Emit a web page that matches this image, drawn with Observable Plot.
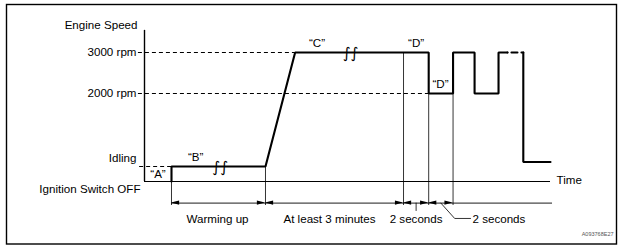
<!DOCTYPE html>
<html><head><meta charset="utf-8">
<script src="https://cdn.jsdelivr.net/npm/d3@7"></script>
<script src="https://cdn.jsdelivr.net/npm/@observablehq/plot@0.6"></script>
<style>
html,body{margin:0;padding:0;background:#fff;}
#chart svg{display:block;}
</style></head><body><div id="chart"></div>
<script>
// ---- Data (time in arbitrary units 0..100, engine speed in rpm) ----
const yTitle = "Engine Speed";
const xTitle = "Time";
const rpmTickValues = [3000, 2000];
const rpmTickLabels = ["3000 rpm", "2000 rpm"];
const idleRpm = 700;
const idleLabel = "Idling";
const offRpm = 0;
const offLabel = "Ignition Switch OFF";
const axisTopRpm = 3540;
const timeEnd = 100;

// engine speed trace
const signalT   = [6.65, 6.65, 29.8, 37.1, 70, 70, 76, 76, 81.3, 81.3, 87.2, 87.2, 89.4];
const signalRpm = [0, 700, 700, 3000, 3000, 2000, 2000, 3000, 3000, 2000, 2000, 3000, 3000];
const dashedT   = [89.4, 93.3];
const dashedRpm = [3000, 3000];
const tailT     = [93.3, 93.3, 100];
const tailRpm   = [3000, 780, 780];

// event instants (extension lines)
const eventT   = [6.65, 29.8, 63.8, 70, 76];
const eventRpm = [0, 700, 3000, 2000, 2000];

// duration annotations
const intervalStart = [6.65, 29.8, 63.8, 70];
const intervalEnd   = [29.8, 63.8, 70, 76];
const intervalLabel = ["Warming up", "At least 3 minutes", "2 seconds", "2 seconds"];

// point labels
const pointLabel = ["\u201CB\u201D", "\u201CC\u201D", "\u201CD\u201D", "\u201CD\u201D"];
const pointT     = [12.6, 42.5, 66.9, 72.9];
const pointRpm   = [700, 3000, 3000, 2000];
const startLabel = "\u201CA\u201D";

// break (time gap) symbols
const breakT   = [18.7, 50.8];
const breakRpm = [700, 3000];

const figureCode = "A093768E27";

// ---- layout constants (rpm units below the time axis) ----
const dimRpm = -900, extBottom = -1000, leader1Low = -1210, leader2Low = -1540;
const headLen = 2.0, headHalf = 85;

// schematic (non-uniform) speed axis: rpm -> drawing level
const speedLevel = d3.scaleLinear().domain([-1000, 0, 700, 2000, 3000]).range([-24, 0, 15, 88, 129]);

const pts = (ts, ys) => ts.map((t, i) => ({t, y: ys[i]}));
const signal = pts(signalT, signalRpm);
const dashed = pts(dashedT, dashedRpm);
const tail = pts(tailT, tailRpm);

const heads = [];
intervalStart.forEach((s, i) => {
  const e = intervalEnd[i];
  heads.push({id: "s" + i, t: s, y1: dimRpm, y2: dimRpm});
  heads.push({id: "s" + i, t: s + headLen, y1: dimRpm - headHalf, y2: dimRpm + headHalf});
  heads.push({id: "e" + i, t: e, y1: dimRpm, y2: dimRpm});
  heads.push({id: "e" + i, t: e - headLen, y1: dimRpm - headHalf, y2: dimRpm + headHalf});
});

const mid = i => (intervalStart[i] + intervalEnd[i]) / 2;
const leader1 = [{t: mid(2), y: dimRpm}, {t: mid(2), y: leader1Low}];
const leader2 = [{t: mid(3), y: dimRpm}, {t: mid(3) + 3.4, y: leader2Low}, {t: mid(3) + 7.3, y: leader2Low}];

const FONT = 11.6;

const chart = Plot.plot({
  width: 621,
  height: 248,
  marginLeft: 6, marginRight: 5, marginTop: 4, marginBottom: 4.5,
  x: {domain: [0, timeEnd], range: [144, 550], axis: null},
  y: {transform: speedLevel, domain: [-24, 129], range: [205, 52], axis: null},
  style: {fontFamily: "'Liberation Sans', Arial, sans-serif", fontSize: FONT + "px", color: "#000", background: "#fff"},
  marks: [
    Plot.frame({stroke: "#000", strokeWidth: 1.4}),
    // dashed level guides
    Plot.ruleY([3000, 2000, idleRpm], {
      x1: [-1.5, -1.5, -1.2], x2: [signalT[3], signalT[4], signalT[0]],
      y: d => d, stroke: "#000", strokeWidth: 1, strokeDasharray: "4,3"
    }),
    // axes
    Plot.ruleX([0], {y1: offRpm, y2: axisTopRpm, stroke: "#000", strokeWidth: 1.4}),
    Plot.ruleY([offRpm], {x1: 0, x2: timeEnd, stroke: "#000", strokeWidth: 1}),
    // extension lines
    Plot.ruleX(eventT, {x: d => d, y1: eventRpm, y2: extBottom, stroke: "#000", strokeWidth: 0.8}),
    // dimension line + arrowheads
    Plot.ruleY([dimRpm], {x1: intervalStart[0], x2: timeEnd + 0.5, stroke: "#000", strokeWidth: 0.9}),
    Plot.areaY(heads, {x: "t", y1: "y1", y2: "y2", z: "id", fill: "#000"}),
    // leaders
    Plot.line(leader1, {x: "t", y: "y", stroke: "#000", strokeWidth: 0.8}),
    Plot.line(leader2, {x: "t", y: "y", stroke: "#000", strokeWidth: 0.8}),
    // signal
    Plot.line(signal, {x: "t", y: "y", stroke: "#000", strokeWidth: 2.1, strokeLinejoin: "miter"}),
    Plot.line(dashed, {x: "t", y: "y", stroke: "#000", strokeWidth: 2.1, strokeDasharray: "0 4 6 4 6"}),
    Plot.line(tail, {x: "t", y: "y", stroke: "#000", strokeWidth: 2.1, strokeLinejoin: "miter"}),
    // break symbols
    Plot.text(breakT, {x: d => d, y: breakRpm, text: () => "\u222B\u222B", fontSize: 15, fontFamily: "DejaVu Sans", fill: "#000", dy: 1}),
    // left labels
    Plot.text([axisTopRpm], {x: 0, y: d => d, text: () => yTitle, textAnchor: "end", dx: -7, dy: -5}),
    Plot.text(rpmTickValues, {x: 0, y: d => d, text: rpmTickLabels, textAnchor: "end", dx: -8}),
    Plot.text([idleRpm], {x: 0, y: d => d, text: () => idleLabel, textAnchor: "end", dx: -8, dy: -8}),
    Plot.text([offRpm], {x: 0, y: d => d, text: () => offLabel, textAnchor: "end", dx: -4, dy: 7.5}),
    Plot.text([offRpm], {x: timeEnd, y: d => d, text: () => xTitle, textAnchor: "start", dx: 6, dy: -1}),
    // point labels
    Plot.text([0], {x: signalT[0] / 2, y: idleRpm / 2, text: () => startLabel}),
    Plot.text(pointT, {x: d => d, y: pointRpm, text: pointLabel, dy: -9}),
    // interval labels
    Plot.text([0], {x: i => mid(i), y: () => dimRpm, text: i => intervalLabel[i], dy: 16.5, dx: -1}),
    Plot.text([1], {x: i => mid(i), y: () => dimRpm, text: i => intervalLabel[i], dy: 16.5, dx: -5}),
    Plot.text([2], {x: i => mid(i), y: () => dimRpm, text: i => intervalLabel[i], dy: 16.5}),
    Plot.text([3], {x: () => leader2[2].t, y: () => dimRpm, text: i => intervalLabel[i], textAnchor: "start", dx: 2, dy: 16}),
    // figure code
    Plot.text([figureCode], {frameAnchor: "bottom-right", text: d => d, fontSize: 5.5, fill: "#555", dx: -3, dy: -8.5})
  ]
});
document.getElementById("chart").appendChild(chart);
</script>
</body></html>
